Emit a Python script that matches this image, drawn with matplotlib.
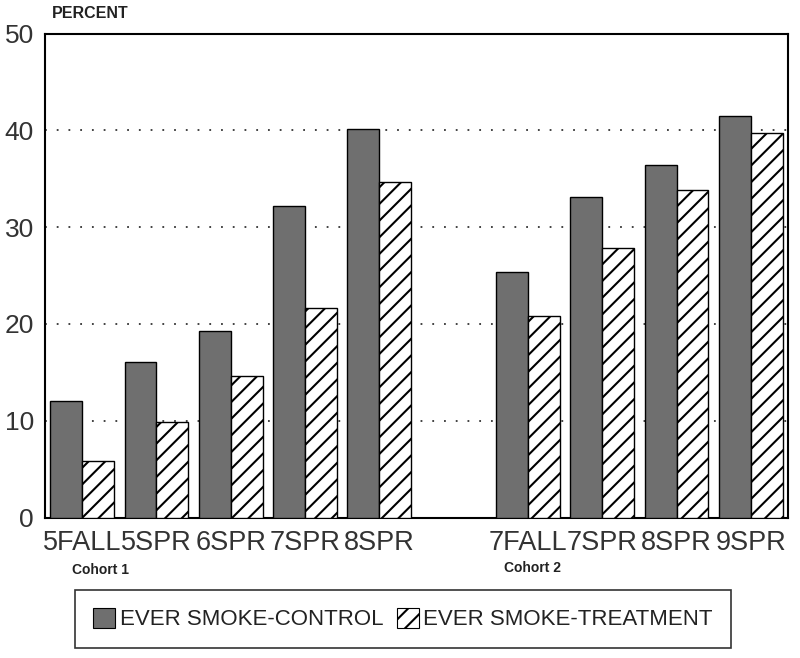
import numpy as np
import matplotlib
matplotlib.use("Agg")
import matplotlib.pyplot as plt
from matplotlib.patches import Patch

plt.rcParams['font.family'] = ['Liberation Sans', 'DejaVu Sans']
plt.rcParams['hatch.linewidth'] = 1.5

# cohort 1 and cohort 2, separated by one empty slot
labels_c1 = ['5FALL', '5SPR', '6SPR', '7SPR', '8SPR']
control_c1 = [12.0, 16.1, 19.3, 32.2, 40.1]
treatment_c1 = [5.8, 9.9, 14.6, 21.6, 34.7]

labels_c2 = ['7FALL', '7SPR', '8SPR', '9SPR']
control_c2 = [25.4, 33.1, 36.4, 41.5]
treatment_c2 = [20.8, 27.8, 33.8, 39.7]

yticks = [0, 10, 20, 30, 40, 50]

labels = labels_c1 + labels_c2
control = control_c1 + control_c2
treatment = treatment_c1 + treatment_c2
x = np.r_[np.arange(len(labels_c1)), np.arange(len(labels_c2)) + len(labels_c1) + 1]

fig = plt.figure(figsize=(8, 6.58), dpi=100)
ax = fig.add_axes([0.05625, 0.2135, 0.92875, 0.7355])

w = 0.43
dark = '#6f6f6f'
ax.bar(x - w / 2, control, w, color=dark, edgecolor='black', linewidth=1.0, zorder=3)
ax.bar(x + w / 2, treatment, w, color='white', edgecolor='black', hatch='//',
       linewidth=1.0, zorder=3)

for v in yticks[1:-1]:
    ax.axhline(v, color='#333333', lw=1.3, ls=(0, (1, 5.5)), zorder=1)

ax.set_xlim(-0.5, 9.5)
ax.set_ylim(0, 50)
ax.set_yticks(yticks)
ax.set_xticks(x)
ax.set_xticklabels(labels)
ax.tick_params(axis='both', length=0, colors='#333333')
ax.tick_params(axis='x', pad=9, labelsize=19.5)
ax.tick_params(axis='y', pad=8, labelsize=19)
for s in ax.spines.values():
    s.set_linewidth(1.5)
    s.set_color('black')

fig.text(52 / 800, 1 - 14 / 658, 'PERCENT', fontsize=11.5, fontweight='bold',
         color='#222222', va='center', ha='left')
fig.text(72 / 800, 1 - 570 / 658, 'Cohort 1', fontsize=10, fontweight='bold',
         color='#222222', va='center', ha='left')
fig.text(504 / 800, 1 - 568 / 658, 'Cohort 2', fontsize=10, fontweight='bold',
         color='#222222', va='center', ha='left')

handles = [Patch(facecolor=dark, edgecolor='black', linewidth=0.8),
           Patch(facecolor='white', edgecolor='black', hatch='//', linewidth=0.8)]
leg = fig.legend(handles, ['EVER SMOKE-CONTROL', 'EVER SMOKE-TREATMENT'],
                 loc='center', bbox_to_anchor=(403 / 800, 1 - 619 / 658), ncol=2,
                 fontsize=16, frameon=True, fancybox=False, edgecolor='black',
                 handlelength=1.0, handleheight=1.0, handletextpad=0.2,
                 columnspacing=0.6, borderpad=0.8, borderaxespad=0)
leg.get_frame().set_linewidth(1.2)
for t in leg.get_texts():
    t.set_color('#222222')

fig.savefig('out.png', dpi=100)
